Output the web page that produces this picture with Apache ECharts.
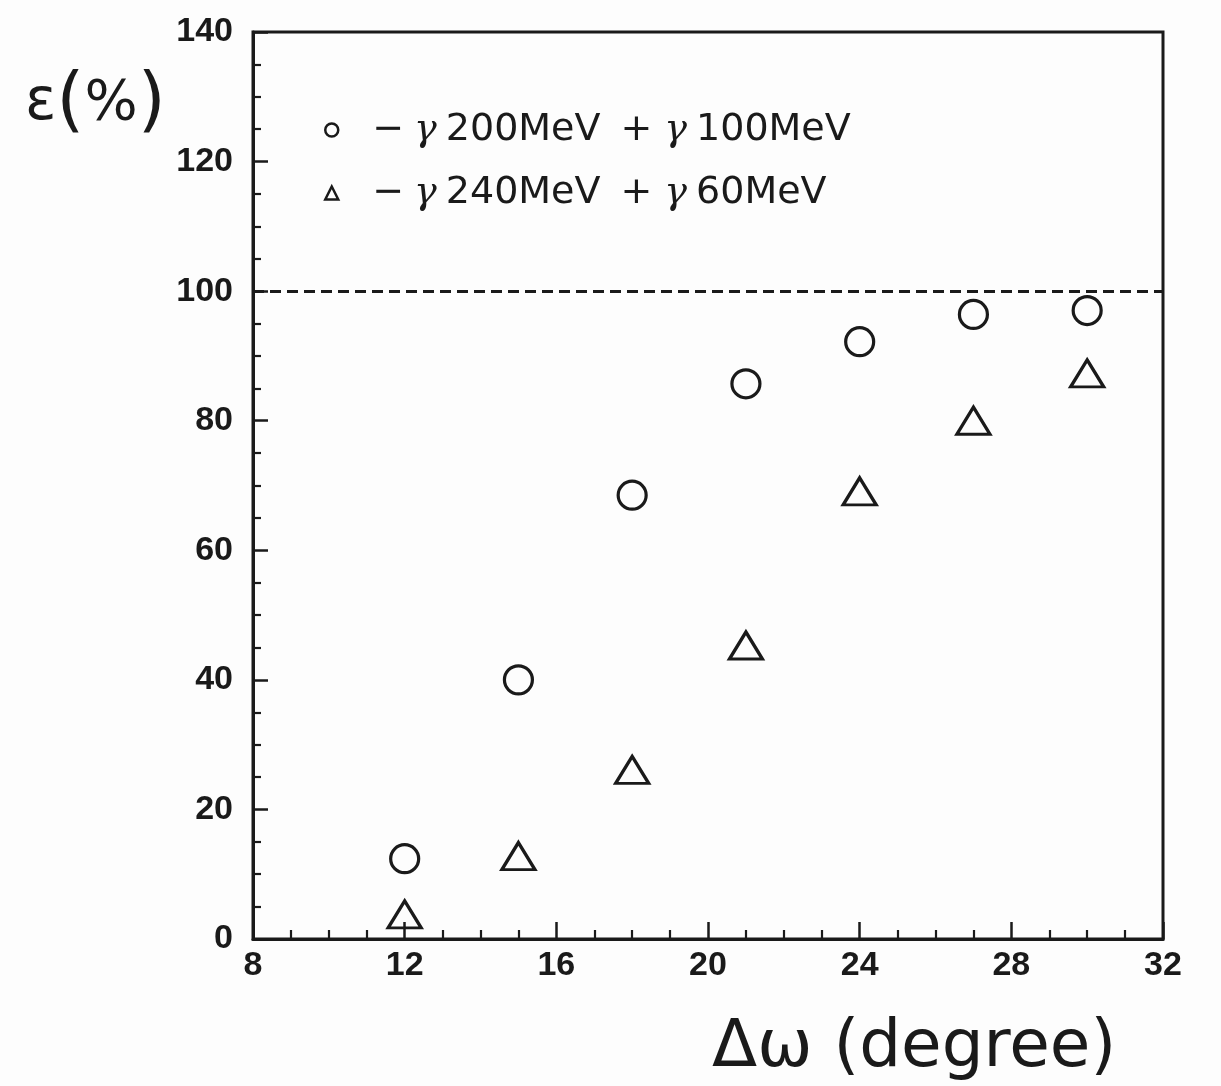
<!DOCTYPE html>
<html>
<head>
<meta charset="utf-8">
<script src="https://cdn.jsdelivr.net/npm/echarts@6/dist/echarts.min.js"></script>
<style>
  html, body { margin: 0; padding: 0; background: #fdfdfd; }
  #chart { width: 1221px; height: 1086px; }
</style>
</head>
<body>
<div id="chart"></div>
<script>
// Opening angle Δω (degree) for each measurement
const angles = [12, 15, 18, 21, 24, 27, 30];
// Efficiency ε (%) for the two photon-energy splits
const effSplit200_100 = [12.4, 40.0, 68.5, 85.7, 92.2, 96.4, 97.0];
const effSplit240_60 = [3.8, 12.8, 26.1, 45.3, 69.1, 80.0, 87.3];
// Series labels (energies of the two photons)
const seriesNames = ['γ 200MeV + γ 100MeV', 'γ 240MeV + γ 60MeV'];
const referenceLevel = 100;

const ink = '#1a1a1a';
const chart = echarts.init(document.getElementById('chart'));

const toPoints = ys => angles.map((x, i) => [x, ys[i]]);

chart.setOption({
  backgroundColor: '#fdfdfd',
  animation: false,
  grid: {
    left: 253, right: 58, top: 32, bottom: 147,
    show: true, borderColor: ink, borderWidth: 3, backgroundColor: 'transparent'
  },
  xAxis: {
    type: 'value', min: 8, max: 32, interval: 4,
    axisLine: { show: true, onZero: false, lineStyle: { color: ink, width: 3 } },
    axisTick: { show: true, inside: true, length: 17, lineStyle: { color: ink, width: 2.5 } },
    minorTick: { show: true, splitNumber: 4, length: 9, lineStyle: { color: ink, width: 2.2 } },
    splitLine: { show: false },
    axisLabel: { color: ink, fontSize: 34, fontWeight: 'bold', fontFamily: 'Liberation Sans', margin: 10 }
  },
  yAxis: {
    type: 'value', min: 0, max: 140, interval: 20,
    axisLine: { show: true, onZero: false, lineStyle: { color: ink, width: 3 } },
    axisTick: { show: true, inside: true, length: 15, lineStyle: { color: ink, width: 2.5 } },
    minorTick: { show: true, splitNumber: 4, length: 8, lineStyle: { color: ink, width: 2.2 } },
    splitLine: { show: false },
    axisLabel: { color: ink, fontSize: 34, fontWeight: 'bold', fontFamily: 'Liberation Sans', margin: 20 }
  },
  legend: {
    orient: 'vertical', left: 319, top: 103, itemGap: 19,
    itemWidth: 13, itemHeight: 13,
    itemStyle: { color: 'transparent', borderColor: ink, borderWidth: 2.5 },
    data: seriesNames,
    formatter: name => {
      const parts = name.split(' ');
      // parts: ['γ', '200MeV', '+', 'γ', '100MeV']
      return '{m|−}{g|γ}{a|' + parts[1] + '}{p|+}{g2|γ}{b|' + parts[4] + '}';
    },
    textStyle: {
      color: ink, fontSize: 38, fontFamily: 'DejaVu Sans', lineHeight: 44,
      rich: {
        m: { fontSize: 38, fontFamily: 'DejaVu Sans', color: ink, padding: [0, 0, 0, 29] },
        g: { fontSize: 38, fontFamily: 'DejaVu Serif', fontStyle: 'italic', color: ink, padding: [0, 0, 0, 10] },
        a: { fontSize: 38, fontFamily: 'DejaVu Sans', color: ink, padding: [0, 0, 0, 9] },
        p: { fontSize: 38, fontFamily: 'DejaVu Sans', color: ink, padding: [0, 0, 0, 20] },
        g2: { fontSize: 38, fontFamily: 'DejaVu Serif', fontStyle: 'italic', color: ink, padding: [0, 0, 0, 12] },
        b: { fontSize: 38, fontFamily: 'DejaVu Sans', color: ink, padding: [0, 0, 0, 9] }
      }
    }
  },
  series: [
    {
      name: seriesNames[0], type: 'scatter',
      symbol: 'circle', symbolSize: 28,
      itemStyle: { color: 'transparent', borderColor: ink, borderWidth: 3.2, opacity: 1 },
      data: toPoints(effSplit200_100),
      markLine: {
        silent: true, symbol: ['none', 'none'], label: { show: false },
        lineStyle: { color: ink, width: 2.8, type: [11, 6] },
        data: [{ yAxis: referenceLevel }]
      }
    },
    {
      name: seriesNames[1], type: 'scatter',
      symbol: 'triangle', symbolSize: [33, 27],
      itemStyle: { color: 'transparent', borderColor: ink, borderWidth: 3.2, opacity: 1 },
      data: toPoints(effSplit240_60)
    }
  ],
  graphic: [
    {
      type: 'text', left: 25, top: 68,
      style: {
        text: '{e|ε}{p|(}{c|%}{p|)}',
        fill: ink,
        rich: {
          e: { fontSize: 58, fontFamily: 'DejaVu Sans', lineHeight: 80, fill: ink },
          p: { fontSize: 72, fontFamily: 'DejaVu Sans', lineHeight: 80, fill: ink },
          c: { fontSize: 56, fontFamily: 'DejaVu Sans', lineHeight: 80, fill: ink }
        }
      }
    },
    {
      type: 'text', left: 712, top: 1016,
      style: { text: 'Δω (degree)', font: '66px "DejaVu Sans"', fill: ink }
    }
  ]
});
</script>
</body>
</html>
